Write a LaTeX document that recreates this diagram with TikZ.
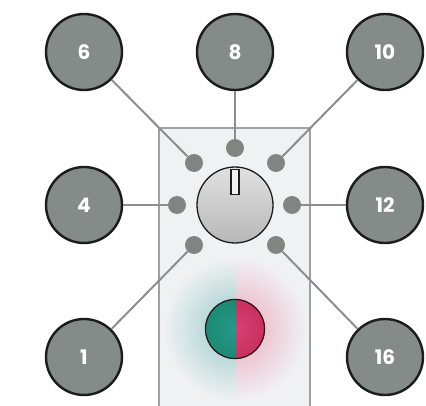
\documentclass[tikz,border=0pt]{standalone}
\usepackage{fontspec}
\setmainfont{Poppins}
\definecolor{panelfill}{RGB}{240,241,243}
\definecolor{panelline}{RGB}{160,162,162}
\definecolor{bigfill}{RGB}{133,139,136}
\definecolor{bigline}{RGB}{28,28,28}
\definecolor{dotfill}{RGB}{128,133,130}
\definecolor{wire}{RGB}{140,142,142}
\definecolor{ledteal}{RGB}{27,138,114}
\definecolor{ledtealc}{RGB}{40,152,140}
\definecolor{ledpink}{RGB}{200,48,92}
\definecolor{ledpinkc}{RGB}{212,66,118}
\definecolor{glowteal}{RGB}{150,200,198}
\definecolor{glowpink}{RGB}{234,168,188}
\begin{document}
\begin{tikzpicture}[x=1pt,y=-1pt,
  bignode/.style={circle, draw=bigline, line width=2.4pt, fill=bigfill, minimum size=76pt, inner sep=0pt,
    text=white, font=\fontsize{20}{20}\selectfont\bfseries},
  dotnode/.style={circle, fill=dotfill, minimum size=18pt, inner sep=0pt},
  wireline/.style={draw=wire, line width=2pt}]
\useasboundingbox (0,0) rectangle (426,406);
% panel
\fill[panelfill] (159,128) rectangle (310,412);
% glow
\begin{scope}
  \clip (160,129) rectangle (235,406);
  \shade[inner color=glowteal, outer color=panelfill] (235,329) circle (72);
\end{scope}
\begin{scope}
  \clip (235,129) rectangle (309,406);
  \shade[inner color=glowpink, outer color=panelfill] (235,329) circle (72);
\end{scope}
\draw[panelline, line width=2pt] (159,412) -- (159,128) -- (310,128) -- (310,412);
% big circles
\node[bignode] (n6) at (84,52) {6};
\node[bignode] (n8) at (235,52) {8};
\node[bignode] (n10) at (385,52) {10};
\node[bignode] (n4) at (84,205) {4};
\node[bignode] (n12) at (385,205) {12};
\node[bignode] (n1) at (84,357) {1};
\node[bignode] (n16) at (385,357) {16};
% dots
\node[dotnode] (d8) at (235,148) {};
\node[dotnode] (d6) at (194,163) {};
\node[dotnode] (d10) at (276,163) {};
\node[dotnode] (d4) at (177,205) {};
\node[dotnode] (d12) at (292,205) {};
\node[dotnode] (d1) at (194,245) {};
\node[dotnode] (d16) at (276,245) {};
% wires
\draw[wireline] (n6) -- (d6);
\draw[wireline] (n8) -- (d8);
\draw[wireline] (n10) -- (d10);
\draw[wireline] (n4) -- (d4);
\draw[wireline] (n12) -- (d12);
\draw[wireline] (n1) -- (d1);
\draw[wireline] (n16) -- (d16);
% knob
\node[circle, minimum size=76pt, inner sep=0pt, draw=bigline, line width=1.3pt,
  top color=white!88!black, bottom color=white!72!black] (knob) at (235,205) {};
\node[rectangle, draw=bigline, line width=1.2pt, fill=white!94!black, minimum width=8pt, minimum height=25pt,
  inner sep=0pt, anchor=north] (ind) at (235,169) {};
% LED
\begin{scope}
  \clip (205,299) rectangle (235,359);
  \shade[inner color=ledtealc, outer color=ledteal] (235,329) circle (30);
\end{scope}
\begin{scope}
  \clip (235,299) rectangle (265,359);
  \shade[inner color=ledpinkc, outer color=ledpink] (235,329) circle (30);
\end{scope}
\node[circle, draw=bigline, line width=1.2pt, minimum size=59pt, inner sep=0pt] (led) at (235,329) {};
\end{tikzpicture}
\end{document}
